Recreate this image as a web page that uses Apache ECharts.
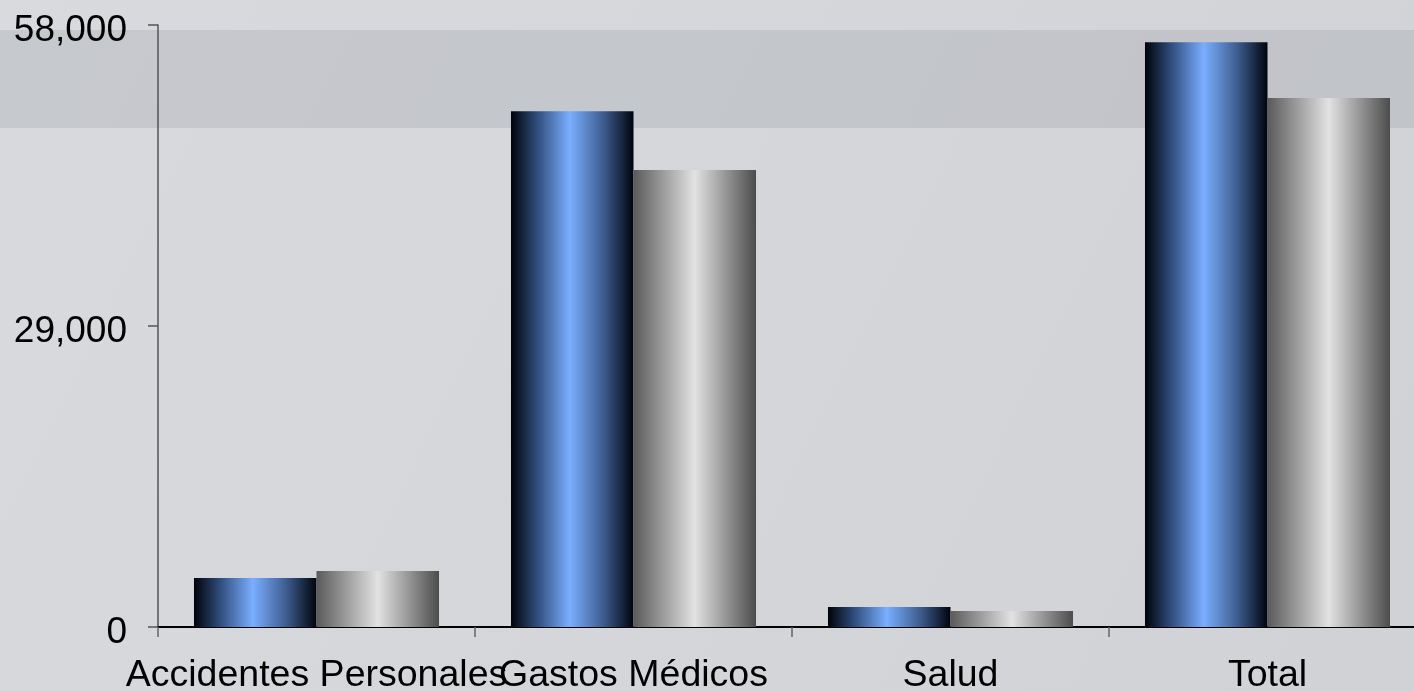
<!DOCTYPE html>
<html><head><meta charset="utf-8">
<script src="https://cdn.jsdelivr.net/npm/echarts@6/dist/echarts.min.js"></script>
<style>html,body{margin:0;padding:0;}#c{width:1414px;height:691px;}</style>
</head><body><div id="c"></div>
<script>
const categories = ['Accidentes Personales', 'Gastos Médicos', 'Salud', 'Total'];
const seriesA = [4720, 49700, 1930, 56350];
const seriesB = [5400, 44030, 1540, 50970];
const yTicks = [0, 29000, 58000];

const chart = echarts.init(document.getElementById('c'));
const blueGrad = new echarts.graphic.LinearGradient(0, 0, 1, 0, [
  {offset: 0, color: '#00030a'},
  {offset: 0.2, color: '#2c4876'},
  {offset: 0.48, color: '#7aaeff'},
  {offset: 0.75, color: '#3f5e90'},
  {offset: 1, color: '#00040c'}
]);
const greyGrad = new echarts.graphic.LinearGradient(0, 0, 1, 0, [
  {offset: 0, color: '#5a5a5a'},
  {offset: 0.5, color: '#e2e2e2'},
  {offset: 1, color: '#4c4c4c'}
]);
chart.setOption({
  backgroundColor: new echarts.graphic.LinearGradient(0, 0, 1, 1, [
    {offset: 0, color: '#d8dadd'},
    {offset: 1, color: '#d0d2d5'}
  ]),
  animation: false,
  graphic: [{
    type: 'rect', z: 0, silent: true,
    shape: {x: 0, y: 30, width: 1414, height: 98},
    style: {fill: 'rgba(150,156,166,0.27)'}
  }],
  grid: {left: 158, right: -12, top: 25, bottom: 64, containLabel: false, outerBoundsMode: 'none'},
  xAxis: {
    type: 'category', data: categories,
    axisLine: {lineStyle: {color: '#000', width: 2}},
    axisTick: {show: true, length: 10, lineStyle: {color: '#666', width: 1.5}},
    axisLabel: {color: '#000', fontSize: 37.5, fontFamily: 'Liberation Sans, Arial', margin: 30, interval: 0}
  },
  yAxis: {
    type: 'value', min: 0, max: 58000, interval: 29000,
    axisLine: {show: true, lineStyle: {color: '#555', width: 1.5}},
    axisTick: {show: true, length: 10, lineStyle: {color: '#555', width: 1.5}},
    splitLine: {show: false},
    axisLabel: {
      color: '#000', fontSize: 37, fontFamily: 'Liberation Sans, Arial', margin: 31,
      verticalAlign: 'top', lineHeight: 12,
      formatter: v => yTicks.includes(v) ? v.toLocaleString('en-US') : ''
    }
  },
  series: [
    {type: 'bar', data: seriesA, barGap: '0%', barCategoryGap: '22.7%', itemStyle: {color: blueGrad}},
    {type: 'bar', data: seriesB, barGap: '0%', barCategoryGap: '22.7%', itemStyle: {color: greyGrad}}
  ]
});
</script></body></html>
